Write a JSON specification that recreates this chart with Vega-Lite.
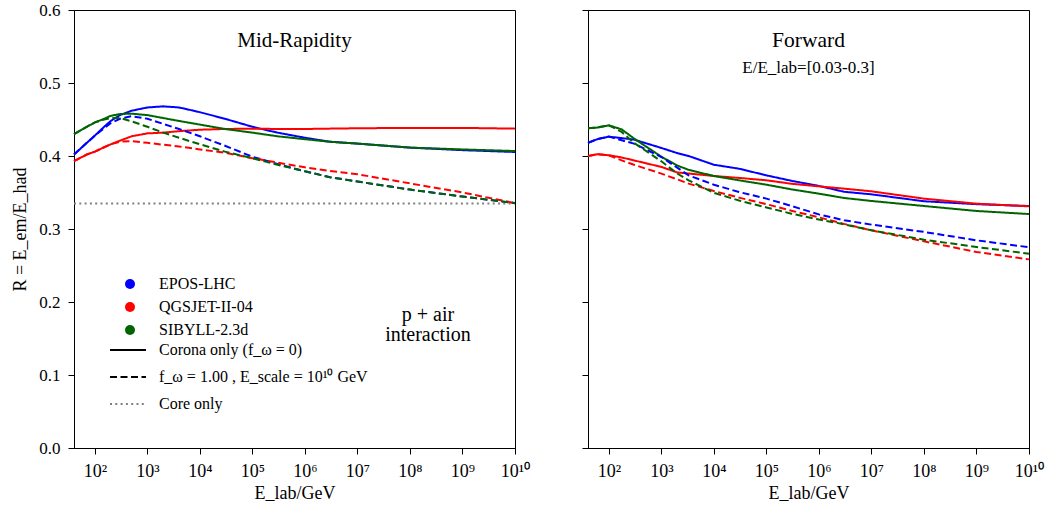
{
"$schema": "https://vega.github.io/schema/vega-lite/v6.json",
"background": "white",
"padding": {"left": 11, "top": 0, "right": 5, "bottom": 5},
"bounds": "flush",
"spacing": 73,
"config": {
  "font": "Liberation Serif, Times New Roman, serif",
  "view": {"stroke": "black", "strokeWidth": 1},
  "axis": {"domainColor": "black", "domainWidth": 1, "tickColor": "black", "tickWidth": 1, "tickSize": 6, "labelColor": "black", "labelFontSize": 17, "labelFont": "Liberation Serif, Times New Roman, serif", "titleFont": "Liberation Serif, Times New Roman, serif", "titleFontSize": 18, "titleFontWeight": "normal", "titleColor": "black", "grid": false, "labelPadding": 4},
  "text": {"font": "Liberation Serif, Times New Roman, serif"},
  "legend": {"labelFont": "Liberation Serif, Times New Roman, serif", "labelFontSize": 16, "labelColor": "black", "padding": 0, "orient": "none", "labelLimit": 400}
},
"datasets": {
  "core": [{"type": "core", "E": 40, "R": 0.335}, {"type": "core", "E": 10000000000, "R": 0.335}],
  "mid": [
{"model":"EPOS-LHC","type":"corona","E":40,"R":0.402},{"model":"EPOS-LHC","type":"corona","E":70,"R":0.418},{"model":"EPOS-LHC","type":"corona","E":100,"R":0.428},{"model":"EPOS-LHC","type":"corona","E":150,"R":0.440},{"model":"EPOS-LHC","type":"corona","E":200,"R":0.448},{"model":"EPOS-LHC","type":"corona","E":300,"R":0.456},{"model":"EPOS-LHC","type":"corona","E":500,"R":0.462},{"model":"EPOS-LHC","type":"corona","E":1000,"R":0.4665},{"model":"EPOS-LHC","type":"corona","E":2000,"R":0.468},{"model":"EPOS-LHC","type":"corona","E":4000,"R":0.4665},{"model":"EPOS-LHC","type":"corona","E":10000,"R":0.460},{"model":"EPOS-LHC","type":"corona","E":30000,"R":0.451},{"model":"EPOS-LHC","type":"corona","E":100000,"R":0.440},{"model":"EPOS-LHC","type":"corona","E":300000,"R":0.432},{"model":"EPOS-LHC","type":"corona","E":1000000,"R":0.425},{"model":"EPOS-LHC","type":"corona","E":3000000,"R":0.4195},{"model":"EPOS-LHC","type":"corona","E":10000000,"R":0.417},{"model":"EPOS-LHC","type":"corona","E":100000000,"R":0.4115},{"model":"EPOS-LHC","type":"corona","E":1000000000,"R":0.408},{"model":"EPOS-LHC","type":"corona","E":10000000000,"R":0.4055},
{"model":"QGSJET-II-04","type":"corona","E":40,"R":0.393},{"model":"QGSJET-II-04","type":"corona","E":70,"R":0.402},{"model":"QGSJET-II-04","type":"corona","E":100,"R":0.406},{"model":"QGSJET-II-04","type":"corona","E":150,"R":0.412},{"model":"QGSJET-II-04","type":"corona","E":200,"R":0.416},{"model":"QGSJET-II-04","type":"corona","E":300,"R":0.421},{"model":"QGSJET-II-04","type":"corona","E":500,"R":0.427},{"model":"QGSJET-II-04","type":"corona","E":1000,"R":0.431},{"model":"QGSJET-II-04","type":"corona","E":2000,"R":0.432},{"model":"QGSJET-II-04","type":"corona","E":4000,"R":0.434},{"model":"QGSJET-II-04","type":"corona","E":10000,"R":0.436},{"model":"QGSJET-II-04","type":"corona","E":30000,"R":0.437},{"model":"QGSJET-II-04","type":"corona","E":100000,"R":0.4375},{"model":"QGSJET-II-04","type":"corona","E":300000,"R":0.437},{"model":"QGSJET-II-04","type":"corona","E":1000000,"R":0.437},{"model":"QGSJET-II-04","type":"corona","E":3000000,"R":0.4375},{"model":"QGSJET-II-04","type":"corona","E":10000000,"R":0.438},{"model":"QGSJET-II-04","type":"corona","E":100000000,"R":0.4385},{"model":"QGSJET-II-04","type":"corona","E":1000000000,"R":0.4385},{"model":"QGSJET-II-04","type":"corona","E":10000000000,"R":0.4375},
{"model":"SIBYLL-2.3d","type":"corona","E":40,"R":0.430},{"model":"SIBYLL-2.3d","type":"corona","E":70,"R":0.440},{"model":"SIBYLL-2.3d","type":"corona","E":100,"R":0.446},{"model":"SIBYLL-2.3d","type":"corona","E":150,"R":0.451},{"model":"SIBYLL-2.3d","type":"corona","E":200,"R":0.455},{"model":"SIBYLL-2.3d","type":"corona","E":300,"R":0.4575},{"model":"SIBYLL-2.3d","type":"corona","E":500,"R":0.458},{"model":"SIBYLL-2.3d","type":"corona","E":1000,"R":0.456},{"model":"SIBYLL-2.3d","type":"corona","E":2000,"R":0.452},{"model":"SIBYLL-2.3d","type":"corona","E":4000,"R":0.448},{"model":"SIBYLL-2.3d","type":"corona","E":10000,"R":0.443},{"model":"SIBYLL-2.3d","type":"corona","E":30000,"R":0.437},{"model":"SIBYLL-2.3d","type":"corona","E":100000,"R":0.432},{"model":"SIBYLL-2.3d","type":"corona","E":300000,"R":0.427},{"model":"SIBYLL-2.3d","type":"corona","E":1000000,"R":0.423},{"model":"SIBYLL-2.3d","type":"corona","E":3000000,"R":0.4195},{"model":"SIBYLL-2.3d","type":"corona","E":10000000,"R":0.417},{"model":"SIBYLL-2.3d","type":"corona","E":100000000,"R":0.4115},{"model":"SIBYLL-2.3d","type":"corona","E":1000000000,"R":0.409},{"model":"SIBYLL-2.3d","type":"corona","E":10000000000,"R":0.4068},
{"model":"EPOS-LHC","type":"full","E":40,"R":0.402},{"model":"EPOS-LHC","type":"full","E":70,"R":0.418},{"model":"EPOS-LHC","type":"full","E":100,"R":0.428},{"model":"EPOS-LHC","type":"full","E":150,"R":0.438},{"model":"EPOS-LHC","type":"full","E":200,"R":0.445},{"model":"EPOS-LHC","type":"full","E":300,"R":0.451},{"model":"EPOS-LHC","type":"full","E":500,"R":0.4545},{"model":"EPOS-LHC","type":"full","E":1000,"R":0.451},{"model":"EPOS-LHC","type":"full","E":2000,"R":0.444},{"model":"EPOS-LHC","type":"full","E":4000,"R":0.437},{"model":"EPOS-LHC","type":"full","E":10000,"R":0.427},{"model":"EPOS-LHC","type":"full","E":30000,"R":0.414},{"model":"EPOS-LHC","type":"full","E":100000,"R":0.399},{"model":"EPOS-LHC","type":"full","E":300000,"R":0.389},{"model":"EPOS-LHC","type":"full","E":1000000,"R":0.379},{"model":"EPOS-LHC","type":"full","E":3000000,"R":0.371},{"model":"EPOS-LHC","type":"full","E":10000000,"R":0.365},{"model":"EPOS-LHC","type":"full","E":100000000,"R":0.354},{"model":"EPOS-LHC","type":"full","E":1000000000,"R":0.3445},{"model":"EPOS-LHC","type":"full","E":10000000000,"R":0.3355},
{"model":"QGSJET-II-04","type":"full","E":40,"R":0.393},{"model":"QGSJET-II-04","type":"full","E":70,"R":0.402},{"model":"QGSJET-II-04","type":"full","E":100,"R":0.406},{"model":"QGSJET-II-04","type":"full","E":150,"R":0.412},{"model":"QGSJET-II-04","type":"full","E":200,"R":0.416},{"model":"QGSJET-II-04","type":"full","E":300,"R":0.4195},{"model":"QGSJET-II-04","type":"full","E":500,"R":0.4205},{"model":"QGSJET-II-04","type":"full","E":1000,"R":0.418},{"model":"QGSJET-II-04","type":"full","E":2000,"R":0.4155},{"model":"QGSJET-II-04","type":"full","E":4000,"R":0.413},{"model":"QGSJET-II-04","type":"full","E":10000,"R":0.409},{"model":"QGSJET-II-04","type":"full","E":30000,"R":0.4045},{"model":"QGSJET-II-04","type":"full","E":100000,"R":0.397},{"model":"QGSJET-II-04","type":"full","E":300000,"R":0.391},{"model":"QGSJET-II-04","type":"full","E":1000000,"R":0.3845},{"model":"QGSJET-II-04","type":"full","E":3000000,"R":0.3795},{"model":"QGSJET-II-04","type":"full","E":10000000,"R":0.375},{"model":"QGSJET-II-04","type":"full","E":100000000,"R":0.3625},{"model":"QGSJET-II-04","type":"full","E":1000000000,"R":0.350},{"model":"QGSJET-II-04","type":"full","E":10000000000,"R":0.3355},
{"model":"SIBYLL-2.3d","type":"full","E":40,"R":0.430},{"model":"SIBYLL-2.3d","type":"full","E":70,"R":0.440},{"model":"SIBYLL-2.3d","type":"full","E":100,"R":0.446},{"model":"SIBYLL-2.3d","type":"full","E":150,"R":0.450},{"model":"SIBYLL-2.3d","type":"full","E":200,"R":0.452},{"model":"SIBYLL-2.3d","type":"full","E":300,"R":0.452},{"model":"SIBYLL-2.3d","type":"full","E":500,"R":0.4475},{"model":"SIBYLL-2.3d","type":"full","E":1000,"R":0.440},{"model":"SIBYLL-2.3d","type":"full","E":2000,"R":0.432},{"model":"SIBYLL-2.3d","type":"full","E":4000,"R":0.425},{"model":"SIBYLL-2.3d","type":"full","E":10000,"R":0.416},{"model":"SIBYLL-2.3d","type":"full","E":30000,"R":0.406},{"model":"SIBYLL-2.3d","type":"full","E":100000,"R":0.397},{"model":"SIBYLL-2.3d","type":"full","E":300000,"R":0.388},{"model":"SIBYLL-2.3d","type":"full","E":1000000,"R":0.379},{"model":"SIBYLL-2.3d","type":"full","E":3000000,"R":0.371},{"model":"SIBYLL-2.3d","type":"full","E":10000000,"R":0.365},{"model":"SIBYLL-2.3d","type":"full","E":100000000,"R":0.354},{"model":"SIBYLL-2.3d","type":"full","E":1000000000,"R":0.3445},{"model":"SIBYLL-2.3d","type":"full","E":10000000000,"R":0.3355}
  ],
  "fwd": [
{"model":"EPOS-LHC","type":"corona","E":40,"R":0.418},{"model":"EPOS-LHC","type":"corona","E":60,"R":0.423},{"model":"EPOS-LHC","type":"corona","E":100,"R":0.4265},{"model":"EPOS-LHC","type":"corona","E":175,"R":0.4245},{"model":"EPOS-LHC","type":"corona","E":300,"R":0.4225},{"model":"EPOS-LHC","type":"corona","E":1000,"R":0.411},{"model":"EPOS-LHC","type":"corona","E":2000,"R":0.404},{"model":"EPOS-LHC","type":"corona","E":3300,"R":0.400},{"model":"EPOS-LHC","type":"corona","E":10000,"R":0.388},{"model":"EPOS-LHC","type":"corona","E":30000,"R":0.3826},{"model":"EPOS-LHC","type":"corona","E":100000,"R":0.3735},{"model":"EPOS-LHC","type":"corona","E":300000,"R":0.366},{"model":"EPOS-LHC","type":"corona","E":1000000,"R":0.359},{"model":"EPOS-LHC","type":"corona","E":3000000,"R":0.351},{"model":"EPOS-LHC","type":"corona","E":10000000,"R":0.3475},{"model":"EPOS-LHC","type":"corona","E":100000000,"R":0.338},{"model":"EPOS-LHC","type":"corona","E":1000000000,"R":0.334},{"model":"EPOS-LHC","type":"corona","E":10000000000,"R":0.3315},
{"model":"QGSJET-II-04","type":"corona","E":40,"R":0.400},{"model":"QGSJET-II-04","type":"corona","E":60,"R":0.4025},{"model":"QGSJET-II-04","type":"corona","E":100,"R":0.401},{"model":"QGSJET-II-04","type":"corona","E":175,"R":0.398},{"model":"QGSJET-II-04","type":"corona","E":300,"R":0.394},{"model":"QGSJET-II-04","type":"corona","E":1000,"R":0.385},{"model":"QGSJET-II-04","type":"corona","E":2000,"R":0.3775},{"model":"QGSJET-II-04","type":"corona","E":3300,"R":0.376},{"model":"QGSJET-II-04","type":"corona","E":10000,"R":0.3726},{"model":"QGSJET-II-04","type":"corona","E":30000,"R":0.370},{"model":"QGSJET-II-04","type":"corona","E":100000,"R":0.3667},{"model":"QGSJET-II-04","type":"corona","E":300000,"R":0.362},{"model":"QGSJET-II-04","type":"corona","E":1000000,"R":0.3584},{"model":"QGSJET-II-04","type":"corona","E":3000000,"R":0.3553},{"model":"QGSJET-II-04","type":"corona","E":10000000,"R":0.3516},{"model":"QGSJET-II-04","type":"corona","E":100000000,"R":0.3416},{"model":"QGSJET-II-04","type":"corona","E":1000000000,"R":0.3347},{"model":"QGSJET-II-04","type":"corona","E":10000000000,"R":0.331},
{"model":"SIBYLL-2.3d","type":"corona","E":40,"R":0.438},{"model":"SIBYLL-2.3d","type":"corona","E":60,"R":0.439},{"model":"SIBYLL-2.3d","type":"corona","E":100,"R":0.442},{"model":"SIBYLL-2.3d","type":"corona","E":175,"R":0.4365},{"model":"SIBYLL-2.3d","type":"corona","E":300,"R":0.424},{"model":"SIBYLL-2.3d","type":"corona","E":1000,"R":0.399},{"model":"SIBYLL-2.3d","type":"corona","E":2000,"R":0.387},{"model":"SIBYLL-2.3d","type":"corona","E":3300,"R":0.381},{"model":"SIBYLL-2.3d","type":"corona","E":10000,"R":0.3726},{"model":"SIBYLL-2.3d","type":"corona","E":30000,"R":0.3667},{"model":"SIBYLL-2.3d","type":"corona","E":100000,"R":0.3607},{"model":"SIBYLL-2.3d","type":"corona","E":300000,"R":0.3543},{"model":"SIBYLL-2.3d","type":"corona","E":1000000,"R":0.3484},{"model":"SIBYLL-2.3d","type":"corona","E":3000000,"R":0.3425},{"model":"SIBYLL-2.3d","type":"corona","E":10000000,"R":0.3384},{"model":"SIBYLL-2.3d","type":"corona","E":100000000,"R":0.3315},{"model":"SIBYLL-2.3d","type":"corona","E":1000000000,"R":0.3247},{"model":"SIBYLL-2.3d","type":"corona","E":10000000000,"R":0.3205},
{"model":"EPOS-LHC","type":"full","E":40,"R":0.418},{"model":"EPOS-LHC","type":"full","E":60,"R":0.423},{"model":"EPOS-LHC","type":"full","E":100,"R":0.4265},{"model":"EPOS-LHC","type":"full","E":175,"R":0.4215},{"model":"EPOS-LHC","type":"full","E":300,"R":0.417},{"model":"EPOS-LHC","type":"full","E":1000,"R":0.3986},{"model":"EPOS-LHC","type":"full","E":2000,"R":0.384},{"model":"EPOS-LHC","type":"full","E":3300,"R":0.3735},{"model":"EPOS-LHC","type":"full","E":10000,"R":0.3607},{"model":"EPOS-LHC","type":"full","E":30000,"R":0.3507},{"model":"EPOS-LHC","type":"full","E":100000,"R":0.3416},{"model":"EPOS-LHC","type":"full","E":300000,"R":0.3315},{"model":"EPOS-LHC","type":"full","E":1000000,"R":0.320},{"model":"EPOS-LHC","type":"full","E":3000000,"R":0.312},{"model":"EPOS-LHC","type":"full","E":10000000,"R":0.306},{"model":"EPOS-LHC","type":"full","E":100000000,"R":0.296},{"model":"EPOS-LHC","type":"full","E":1000000000,"R":0.2845},{"model":"EPOS-LHC","type":"full","E":10000000000,"R":0.275},
{"model":"QGSJET-II-04","type":"full","E":40,"R":0.400},{"model":"QGSJET-II-04","type":"full","E":60,"R":0.4025},{"model":"QGSJET-II-04","type":"full","E":100,"R":0.401},{"model":"QGSJET-II-04","type":"full","E":175,"R":0.394},{"model":"QGSJET-II-04","type":"full","E":300,"R":0.388},{"model":"QGSJET-II-04","type":"full","E":1000,"R":0.3758},{"model":"QGSJET-II-04","type":"full","E":2000,"R":0.368},{"model":"QGSJET-II-04","type":"full","E":3300,"R":0.3621},{"model":"QGSJET-II-04","type":"full","E":10000,"R":0.352},{"model":"QGSJET-II-04","type":"full","E":30000,"R":0.343},{"model":"QGSJET-II-04","type":"full","E":100000,"R":0.334},{"model":"QGSJET-II-04","type":"full","E":300000,"R":0.325},{"model":"QGSJET-II-04","type":"full","E":1000000,"R":0.316},{"model":"QGSJET-II-04","type":"full","E":3000000,"R":0.307},{"model":"QGSJET-II-04","type":"full","E":10000000,"R":0.2982},{"model":"QGSJET-II-04","type":"full","E":100000000,"R":0.2831},{"model":"QGSJET-II-04","type":"full","E":1000000000,"R":0.2685},{"model":"QGSJET-II-04","type":"full","E":10000000000,"R":0.2584},
{"model":"SIBYLL-2.3d","type":"full","E":40,"R":0.438},{"model":"SIBYLL-2.3d","type":"full","E":60,"R":0.439},{"model":"SIBYLL-2.3d","type":"full","E":100,"R":0.442},{"model":"SIBYLL-2.3d","type":"full","E":175,"R":0.433},{"model":"SIBYLL-2.3d","type":"full","E":300,"R":0.418},{"model":"SIBYLL-2.3d","type":"full","E":1000,"R":0.3927},{"model":"SIBYLL-2.3d","type":"full","E":2000,"R":0.376},{"model":"SIBYLL-2.3d","type":"full","E":3300,"R":0.3667},{"model":"SIBYLL-2.3d","type":"full","E":10000,"R":0.3495},{"model":"SIBYLL-2.3d","type":"full","E":30000,"R":0.339},{"model":"SIBYLL-2.3d","type":"full","E":100000,"R":0.3295},{"model":"SIBYLL-2.3d","type":"full","E":300000,"R":0.321},{"model":"SIBYLL-2.3d","type":"full","E":1000000,"R":0.313},{"model":"SIBYLL-2.3d","type":"full","E":3000000,"R":0.3065},{"model":"SIBYLL-2.3d","type":"full","E":10000000,"R":0.2982},{"model":"SIBYLL-2.3d","type":"full","E":100000000,"R":0.2854},{"model":"SIBYLL-2.3d","type":"full","E":1000000000,"R":0.2753},{"model":"SIBYLL-2.3d","type":"full","E":10000000000,"R":0.2662}
  ]
},
"hconcat": [
  {
    "width": 441, "height": 438,
    "layer": [
      {"data": {"name": "core"}, "mark": {"type": "line", "strokeWidth": 2, "color": "#808080"},
       "encoding": {
         "x": {"field": "E", "type": "quantitative", "scale": {"type": "log", "domain": [40, 10000000000], "nice": false}, "axis": {"values": [100, 1000, 10000, 100000, 1000000, 10000000, 100000000, 1000000000, 10000000000], "labelExpr": "['','','10²','10³','10⁴','10⁵','10⁶','10⁷','10⁸','10⁹','10¹⁰'][round(log(datum.value)/LN10)]", "labelFlush": false, "labelOverlap": false, "labelFontSize": 18, "labelPadding": 8, "title": "E_lab/GeV", "titlePadding": 4}},
         "y": {"field": "R", "type": "quantitative", "scale": {"domain": [0, 0.6], "nice": false}, "axis": {"values": [0, 0.1, 0.2, 0.3, 0.4, 0.5, 0.6], "format": ".1f", "title": "R = E_em/E_had", "labelPadding": 8, "titlePadding": 9}},
         "strokeDash": {"field": "type", "type": "nominal"}
       }},
      {"data": {"name": "mid"}, "mark": {"type": "line", "strokeWidth": 2},
       "encoding": {
         "x": {"field": "E", "type": "quantitative"},
         "y": {"field": "R", "type": "quantitative"},
         "color": {"field": "model", "type": "nominal", "scale": {"domain": ["EPOS-LHC", "QGSJET-II-04", "SIBYLL-2.3d"], "range": ["#0000ff", "#ff0000", "#006400"]},
           "legend": {"title": null, "symbolType": "circle", "symbolSize": 100, "symbolStrokeWidth": 0, "legendX": 48, "legendY": 266, "rowPadding": 7, "labelOffset": 21,
             "encode": {"symbols": {"update": {"fill": {"signal": "datum.value === 'EPOS-LHC' ? '#0000ff' : datum.value === 'QGSJET-II-04' ? '#ff0000' : '#006400'"}, "opacity": {"value": 1}, "strokeWidth": {"value": 0}}}}}},
         "strokeDash": {"field": "type", "type": "nominal", "scale": {"domain": ["corona", "full", "core"], "range": [[1, 0], [7, 3.5], [2, 3.3]]},
           "legend": {"title": null, "symbolType": "stroke", "symbolSize": 1296, "symbolStrokeWidth": 2, "legendX": 35, "legendY": 321, "rowPadding": -12, "labelOffset": 12,
             "labelExpr": "datum.value === 'corona' ? 'Corona only (f_ω = 0)' : datum.value === 'full' ? 'f_ω = 1.00 , E_scale = 10¹⁰ GeV' : 'Core only'",
             "encode": {"symbols": {"update": {"stroke": {"signal": "datum.value === 'core' ? '#808080' : 'black'"}, "opacity": {"value": 1}}}}}}
       }},
      {"data": {"values": [{"E": 633000, "R": 0.557, "label": "Mid-Rapidity"}]}, "mark": {"type": "text", "fontSize": 21, "color": "black", "baseline": "middle", "align": "center"},
       "encoding": {"x": {"field": "E", "type": "quantitative"}, "y": {"field": "R", "type": "quantitative"}, "text": {"field": "label"}}},
      {"data": {"values": [{"E": 220000000, "R": 0.1816, "label": "p + air"}, {"E": 220000000, "R": 0.1542, "label": "interaction"}]}, "mark": {"type": "text", "fontSize": 20, "color": "black", "baseline": "middle", "align": "center"},
       "encoding": {"x": {"field": "E", "type": "quantitative"}, "y": {"field": "R", "type": "quantitative"}, "text": {"field": "label"}}}
    ]
  },
  {
    "width": 441, "height": 438,
    "layer": [
      {"data": {"name": "fwd"}, "mark": {"type": "line", "strokeWidth": 2},
       "encoding": {
         "x": {"field": "E", "type": "quantitative", "scale": {"type": "log", "domain": [40, 10000000000], "nice": false}, "axis": {"values": [100, 1000, 10000, 100000, 1000000, 10000000, 100000000, 1000000000, 10000000000], "labelExpr": "['','','10²','10³','10⁴','10⁵','10⁶','10⁷','10⁸','10⁹','10¹⁰'][round(log(datum.value)/LN10)]", "labelFlush": false, "labelOverlap": false, "labelFontSize": 18, "labelPadding": 8, "title": "E_lab/GeV", "titlePadding": 4}},
         "y": {"field": "R", "type": "quantitative", "scale": {"domain": [0, 0.6], "nice": false}, "axis": {"values": [0, 0.1, 0.2, 0.3, 0.4, 0.5, 0.6], "labels": false, "title": null}},
         "color": {"field": "model", "type": "nominal", "scale": {"domain": ["EPOS-LHC", "QGSJET-II-04", "SIBYLL-2.3d"], "range": ["#0000ff", "#ff0000", "#006400"]}, "legend": null},
         "strokeDash": {"field": "type", "type": "nominal", "scale": {"domain": ["corona", "full", "core"], "range": [[1, 0], [7, 3.5], [2, 3.3]]}, "legend": null}
       }},
      {"data": {"values": [{"E": 633000, "R": 0.557, "label": "Forward"}]}, "mark": {"type": "text", "fontSize": 21.5, "color": "black", "baseline": "middle", "align": "center"},
       "encoding": {"x": {"field": "E", "type": "quantitative"}, "y": {"field": "R", "type": "quantitative"}, "text": {"field": "label"}}},
      {"data": {"values": [{"E": 633000, "R": 0.521, "label": "E/E_lab=[0.03-0.3]"}]}, "mark": {"type": "text", "fontSize": 17, "color": "black", "baseline": "middle", "align": "center"},
       "encoding": {"x": {"field": "E", "type": "quantitative"}, "y": {"field": "R", "type": "quantitative"}, "text": {"field": "label"}}}
    ]
  }
],
"resolve": {"scale": {"color": "independent", "strokeDash": "independent"}}
}
